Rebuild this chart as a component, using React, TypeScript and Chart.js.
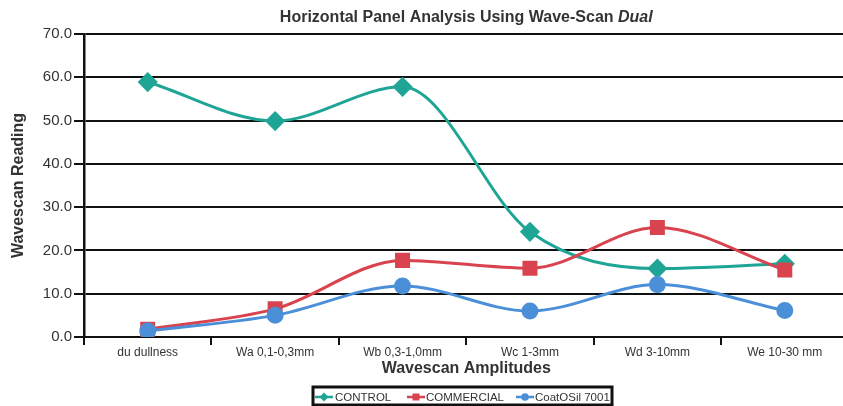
import React, { useEffect, useRef } from "react";
import { Chart, registerables } from "chart.js";

Chart.register(...registerables);

const categories = ["du dullness", "Wa 0,1-0,3mm", "Wb 0,3-1,0mm", "Wc 1-3mm", "Wd 3-10mm", "We 10-30 mm"];
const controlValues = [58.9, 49.9, 57.8, 24.3, 15.8, 16.9];
const commercialValues = [1.8, 6.5, 17.7, 15.9, 25.3, 15.5];
const coatosilValues = [1.4, 5.0, 11.8, 6.0, 12.1, 6.1];
const seriesNames = ["CONTROL", "COMMERCIAL", "CoatOSil 7001"];
const yTicks = [0, 10, 20, 30, 40, 50, 60, 70];

const COLORS = ["#1fa595", "#d8434f", "#4b8fd8"];
const STYLES = ["rectRot", "rect", "circle"];
const FONT = '"Liberation Sans", Arial, Helvetica, sans-serif';
const TEXT = "#333333";

const decorPlugin = {
  id: "decor",
  afterDraw(chart: any) {
    const ctx = chart.ctx as CanvasRenderingContext2D;
    const area = chart.chartArea;
    ctx.save();
    // Title
    const cx = (area.left + area.right) / 2;
    const partA = "Horizontal Panel Analysis Using Wave-Scan ";
    const partB = "Dual";
    ctx.fillStyle = TEXT;
    ctx.textBaseline = "alphabetic";
    ctx.font = `bold 16px ${FONT}`;
    const wA = ctx.measureText(partA).width;
    ctx.font = `italic bold 16px ${FONT}`;
    const wB = ctx.measureText(partB).width;
    const startX = cx - (wA + wB) / 2;
    ctx.font = `bold 16px ${FONT}`;
    ctx.textAlign = "left";
    ctx.fillText(partA, startX, 22);
    ctx.font = `italic bold 16px ${FONT}`;
    ctx.fillText(partB, startX + wA, 22);

    // Y axis title
    ctx.save();
    ctx.translate(19, (area.top + area.bottom) / 2);
    ctx.rotate(-Math.PI / 2);
    ctx.font = `bold 16px ${FONT}`;
    ctx.textAlign = "center";
    ctx.textBaseline = "middle";
    ctx.fillText("Wavescan Reading", 0, 0);
    ctx.restore();

    // X axis title
    ctx.font = `bold 16px ${FONT}`;
    ctx.textAlign = "center";
    ctx.textBaseline = "middle";
    ctx.fillText("Wavescan Amplitudes", cx, 369);

    // Legend
    const boxL = 313, boxT = 387, boxR = 612, boxB = 405;
    ctx.fillStyle = "#ffffff";
    ctx.fillRect(boxL, boxT, boxR - boxL, boxB - boxT);
    ctx.strokeStyle = "#111111";
    ctx.lineWidth = 3;
    ctx.strokeRect(boxL, boxT, boxR - boxL, boxB - boxT);
    const items = [
      { lx: 315, lw: 18, tx: 335 },
      { lx: 407, lw: 18, tx: 426 },
      { lx: 516, lw: 18, tx: 535 },
    ];
    const ly = 397;
    items.forEach((it, i) => {
      ctx.strokeStyle = COLORS[i];
      ctx.lineWidth = 2.5;
      ctx.beginPath();
      ctx.moveTo(it.lx, ly);
      ctx.lineTo(it.lx + it.lw, ly);
      ctx.stroke();
      ctx.fillStyle = COLORS[i];
      const mx = it.lx + it.lw / 2;
      ctx.beginPath();
      if (i === 0) {
        ctx.moveTo(mx, ly - 4.5);
        ctx.lineTo(mx + 4.5, ly);
        ctx.lineTo(mx, ly + 4.5);
        ctx.lineTo(mx - 4.5, ly);
        ctx.closePath();
      } else if (i === 1) {
        ctx.rect(mx - 3.5, ly - 3.5, 7, 7);
      } else {
        ctx.arc(mx, ly, 3.8, 0, Math.PI * 2);
      }
      ctx.fill();
      ctx.fillStyle = TEXT;
      ctx.font = `11.5px ${FONT}`;
      ctx.textAlign = "left";
      ctx.textBaseline = "middle";
      ctx.fillText(seriesNames[i], it.tx, ly + 1);
    });
    ctx.restore();
  },
};

export default function App() {
  const ref = useRef<HTMLCanvasElement | null>(null);
  useEffect(() => {
    if (!ref.current) return;
    const values = [controlValues, commercialValues, coatosilValues];
    const orders = [2, 1, 0];
    const radii = [8, 8.5, 7];
    const chart = new Chart(ref.current, {
      type: "line",
      data: {
        labels: categories,
        datasets: seriesNames.map((name, i) => ({
          label: name,
          data: values[i],
          borderColor: COLORS[i],
          backgroundColor: COLORS[i],
          pointBackgroundColor: COLORS[i],
          pointBorderColor: COLORS[i],
          pointStyle: STYLES[i] as any,
          pointRadius: radii[i],
          borderWidth: 3,
          cubicInterpolationMode: "monotone" as const,
          fill: false,
          order: orders[i],
        })),
      },
      options: {
        responsive: false,
        animation: false,
        devicePixelRatio: 1,
        layout: { padding: { left: 0, right: 8, top: 34, bottom: 0 } },
        plugins: {
          legend: { display: false },
          title: { display: false },
          tooltip: { enabled: false },
        },
        scales: {
          x: {
            type: "category",
            offset: true,
            grid: {
              display: true,
              drawOnChartArea: false,
              drawTicks: true,
              tickLength: 8,
              color: "#111111",
              lineWidth: 2,
              offset: true,
            },
            border: { display: true, color: "#111111", width: 2 },
            ticks: {
              color: TEXT,
              font: { family: FONT, size: 12 },
              padding: 0,
              maxRotation: 0,
              autoSkip: false,
            },
            afterFit: (scale: any) => {
              scale.height = 69;
            },
          },
          y: {
            min: 0,
            max: 70,
            afterBuildTicks: (scale: any) => {
              scale.ticks = yTicks.map((v) => ({ value: v }));
            },
            grid: {
              color: "#111111",
              lineWidth: 2,
              drawTicks: true,
              tickLength: 10,
            },
            border: { display: true, color: "#111111", width: 2.5 },
            ticks: {
              color: TEXT,
              font: { family: FONT, size: 15 },
              padding: 2,
              callback: (v: any) => Number(v).toFixed(1),
            },
            afterFit: (scale: any) => {
              scale.width = 84;
            },
          },
        },
      },
      plugins: [decorPlugin],
    });
    return () => chart.destroy();
  }, []);
  return (
    <div
      style={{
        position: "fixed",
        left: 0,
        top: 0,
        width: 843,
        height: 406,
        overflow: "hidden",
        background: "#ffffff",
      }}
    >
      <canvas ref={ref} width={860} height={406} style={{ display: "block", width: 860, height: 406 }} />
    </div>
  );
}
